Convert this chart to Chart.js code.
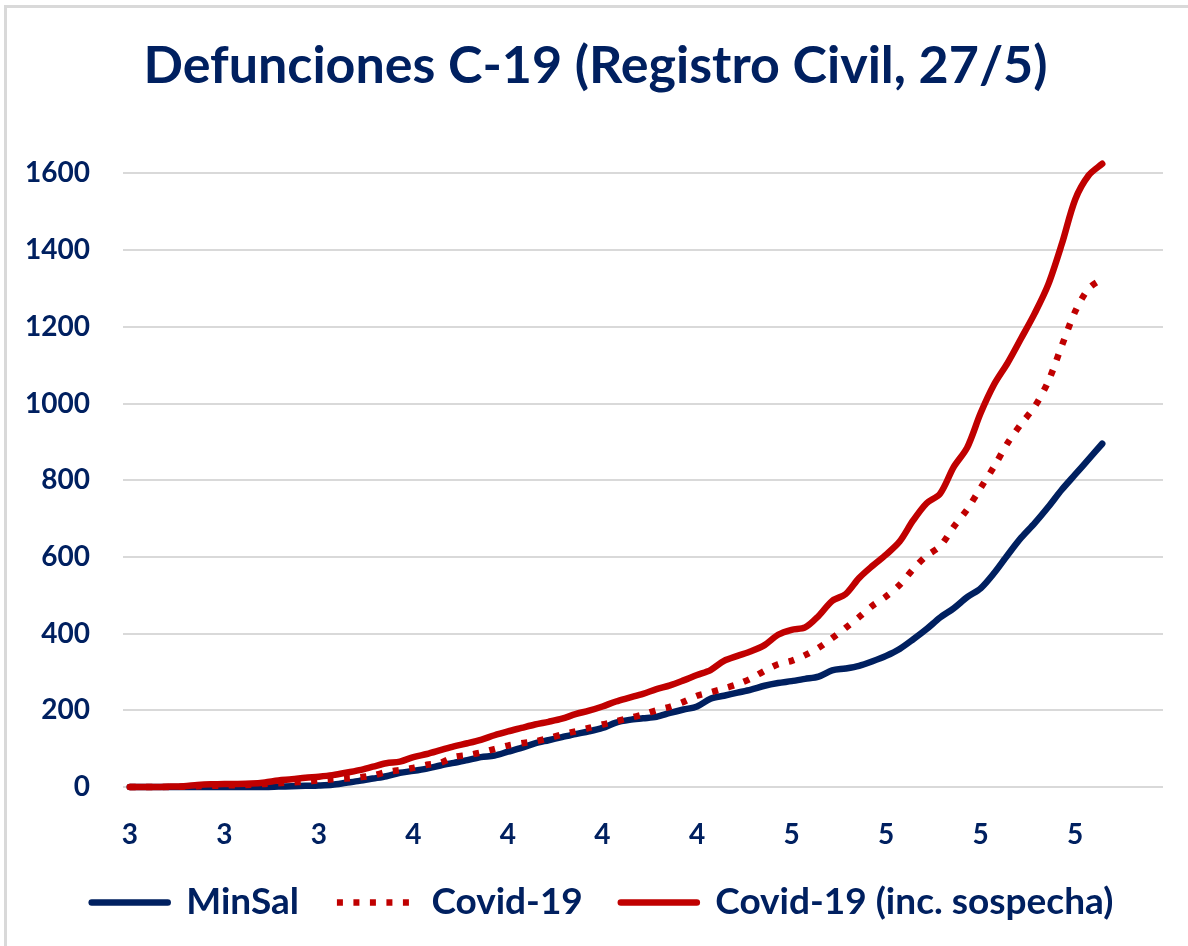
<!DOCTYPE html>
<html>
<head>
<meta charset="utf-8">
<title>Defunciones C-19 (Registro Civil, 27/5)</title>
<script src="https://cdn.jsdelivr.net/npm/chart.js@4.4.0/dist/chart.umd.min.js"></script>
<style>
  html, body { margin: 0; padding: 0; background: #fff; }
  body { width: 1188px; height: 946px; overflow: hidden; position: relative; }
  /* light frame of the original Excel chart (only top/left edges are visible) */
  .frame {
    position: absolute; left: 4px; top: 5px; right: -20px; bottom: -20px;
    border-left: 3px solid #d9d9d9; border-top: 3px solid #d9d9d9;
  }
  .wrap { position: absolute; left: 0; top: 0; width: 1188px; height: 946px; }
</style>
</head>
<body>
<div class="frame"></div>
<div class="wrap"><canvas id="chart"></canvas></div>
<script>
// daily categories, 16/3 .. 31/5 (the axis runs a few days past the last data point)
const dates = [
  "16/3", "17/3", "18/3", "19/3", "20/3", "21/3", "22/3", "23/3", "24/3", "25/3",
  "26/3", "27/3", "28/3", "29/3", "30/3", "31/3", "1/4", "2/4", "3/4", "4/4",
  "5/4", "6/4", "7/4", "8/4", "9/4", "10/4", "11/4", "12/4", "13/4", "14/4",
  "15/4", "16/4", "17/4", "18/4", "19/4", "20/4", "21/4", "22/4", "23/4", "24/4",
  "25/4", "26/4", "27/4", "28/4", "29/4", "30/4", "1/5", "2/5", "3/5", "4/5",
  "5/5", "6/5", "7/5", "8/5", "9/5", "10/5", "11/5", "12/5", "13/5", "14/5",
  "15/5", "16/5", "17/5", "18/5", "19/5", "20/5", "21/5", "22/5", "23/5", "24/5",
  "25/5", "26/5", "27/5", "28/5", "29/5", "30/5", "31/5",
];

// cumulative deaths, 16/3 .. 27/5
const minsal = [
  0, 0, 0, 0, 0, 0, 0, 0, 0, 0,
  0, 1, 2, 3, 4, 6, 11, 16, 22, 28,
  37, 42, 48, 56, 63, 70, 78, 82, 92, 102,
  114, 122, 130, 138, 145, 154, 168, 175, 179, 183,
  193, 202, 210, 230, 238, 246, 254, 264, 271, 276,
  282, 288, 304, 309, 316, 328, 342, 360, 385, 412,
  442, 466, 495, 518, 558, 605, 650, 688, 730, 775,
  815, 855, 895,
];
const covid = [
  0, 0, 0, 0, 1, 2, 3, 4, 5, 6,
  8, 10, 12, 14, 17, 20, 22, 25, 30, 39,
  44, 50, 58, 63, 78, 83, 90, 99, 108, 114,
  119, 127, 137, 145, 154, 163, 171, 180, 189, 200,
  209, 222, 238, 247, 257, 268, 283, 303, 320, 329,
  344, 363, 388, 415, 443, 473, 497, 527, 568, 603,
  628, 678, 724, 780, 836, 897, 947, 992, 1057, 1150,
  1240, 1300, 1325,
];
const covidSospecha = [
  0, 0, 0, 1, 2, 5, 7, 8, 8, 9,
  12, 17, 20, 24, 27, 31, 37, 44, 53, 62,
  66, 78, 86, 96, 106, 114, 123, 135, 145, 154,
  163, 170, 178, 190, 199, 210, 223, 233, 243, 255,
  265, 278, 292, 305, 329, 342, 354, 370, 397, 410,
  416, 446, 485, 503, 545, 577, 606, 640, 695, 740,
  765, 834, 885, 975, 1050, 1106, 1170, 1235, 1310, 1415,
  1532, 1595, 1625,
];

const yTicks = [0, 200, 400, 600, 800, 1000, 1200, 1400, 1600];
const tickEvery = 7; // one axis label per week, showing the month number

const NAVY = "#002060";
const RED = "#C00000";
const GRID = "#d9d9d9";
const FONT = "Lato, 'Open Sans', sans-serif";

// Chart.js centres title and legend on the padded width; nudge them to where
// the original has them
const nudge = {
  id: "nudge",
  afterLayout(chart) {
    const shift = (box, dx) => {
      if (!box) return;
      box.left += dx;
      box.right += dx;
    };
    shift(chart.titleBlock, 14);
    shift(chart.legend, 21);
  },
};

function lineSet(label, data, color, dash) {
  return {
    label,
    data,
    borderColor: color,
    backgroundColor: color,
    borderWidth: 6.5,
    borderDash: dash || [],
    borderCapStyle: dash ? "butt" : "round",
    borderJoinStyle: "round",
    pointRadius: 0,
    pointHoverRadius: 0,
    tension: 0.3,
    clip: false,
  };
}

new Chart(document.getElementById("chart"), {
  type: "line",
  data: {
    labels: dates,
    // Excel draws later series on top; Chart.js draws index 0 on top, so the
    // list is reversed here and reversed back in the legend
    datasets: [
      lineSet("Covid-19 (inc. sospecha)", covidSospecha, RED),
      lineSet("Covid-19", covid, RED, [6, 10.5]),
      lineSet("MinSal", minsal, NAVY),
    ],
  },
  plugins: [nudge],
  options: {
    responsive: true,
    maintainAspectRatio: false,
    animation: false,
    layout: { padding: { left: 0, right: 25, top: 0, bottom: 15 } },
    scales: {
      x: {
        type: "category",
        offset: true,
        grid: { display: false, drawTicks: false },
        border: { display: false },
        afterFit: (s) => { s.height = 59; },
        ticks: {
          autoSkip: false,
          maxRotation: 0,
          padding: 31,
          color: NAVY,
          font: { family: FONT, size: 28, weight: "bold" },
          callback: (v, i) => (i % tickEvery === 0 ? dates[i].split("/")[1] : ""),
        },
      },
      y: {
        min: yTicks[0],
        max: yTicks[yTicks.length - 1],
        afterFit: (s) => { s.width = 123; },
        afterBuildTicks: (s) => { s.ticks = yTicks.map((v) => ({ value: v })); },
        grid: { color: GRID, lineWidth: 2, drawTicks: false },
        border: { display: false },
        ticks: {
          padding: 33,
          color: NAVY,
          font: { family: FONT, size: 28, weight: "bold" },
          callback: (v) => String(v),
        },
      },
    },
    plugins: {
      title: {
        display: true,
        text: "Defunciones C-19 (Registro Civil, 27/5)",
        color: NAVY,
        font: { family: FONT, size: 52, weight: "bold" },
        padding: { top: 35, bottom: 76 },
      },
      legend: {
        position: "bottom",
        reverse: true,
        labels: {
          usePointStyle: true,
          pointStyleWidth: 76,
          padding: 38,
          color: NAVY,
          font: { family: FONT, size: 37, weight: "bold" },
          generateLabels(chart) {
            const items = Chart.defaults.plugins.legend.labels.generateLabels(chart);
            items.forEach((it) => {
              const ds = chart.data.datasets[it.datasetIndex];
              it.pointStyle = "line";
              it.lineWidth = ds.borderWidth;
              it.lineDash = ds.borderDash;
              it.lineCap = ds.borderCapStyle;
              it.strokeStyle = ds.borderColor;
            });
            return items;
          },
        },
      },
      tooltip: { enabled: false },
    },
  },
});
</script>
</body>
</html>
